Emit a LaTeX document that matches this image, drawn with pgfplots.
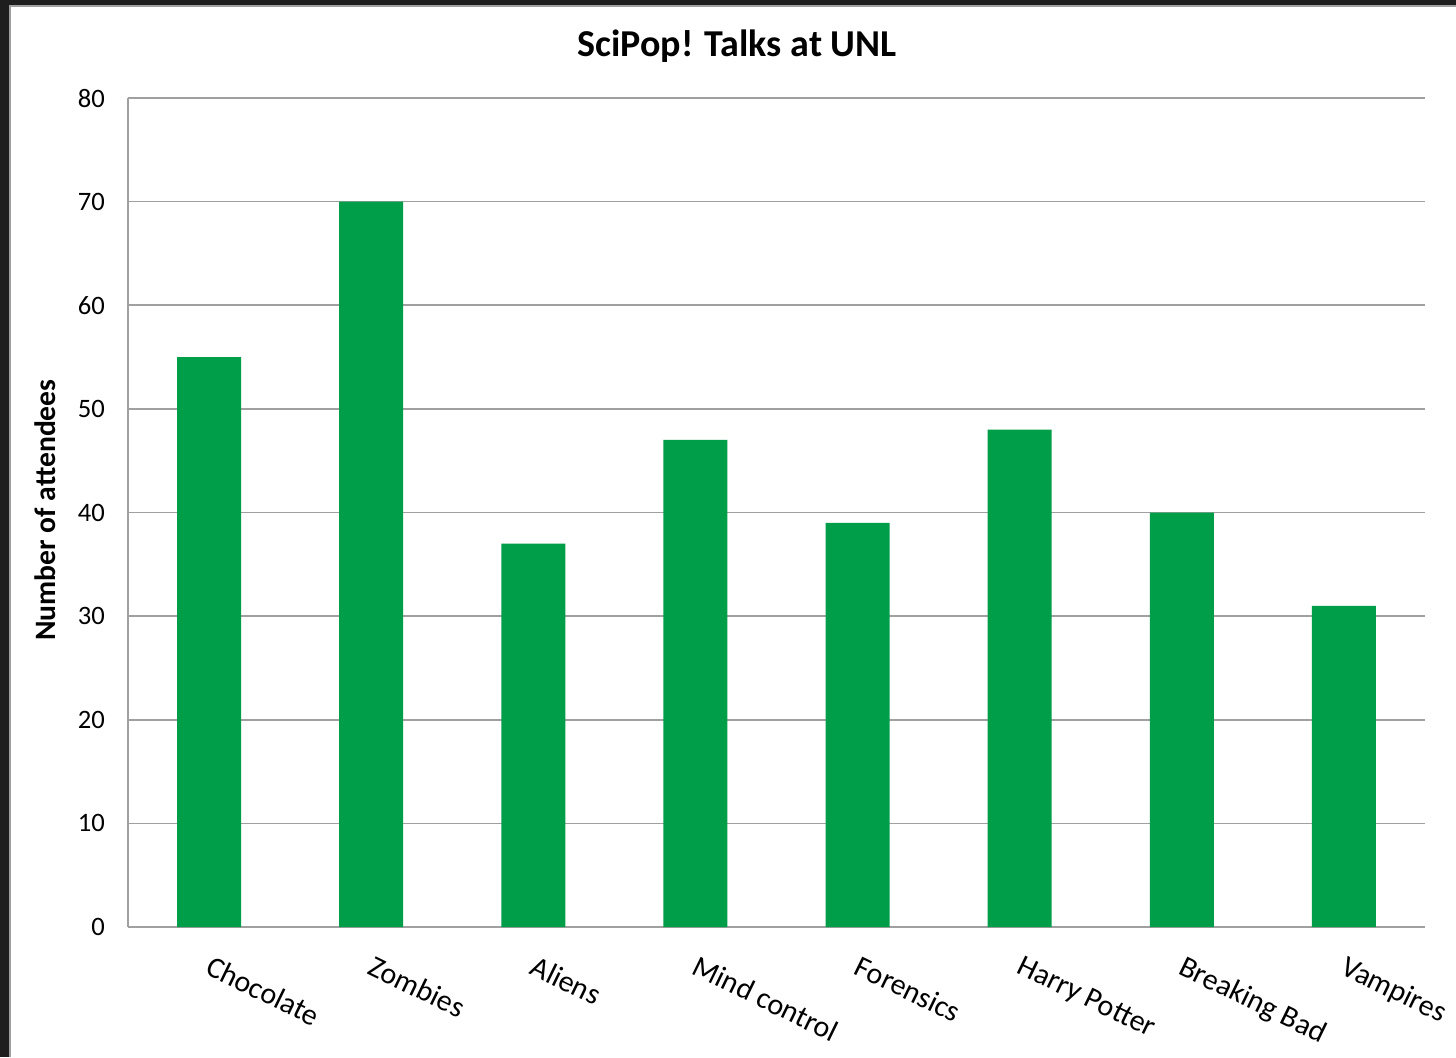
\documentclass[border=0pt]{standalone}
\usepackage{pgfplots}
\pgfplotsset{compat=1.18}
\usepackage{fontspec}
\setmainfont{Carlito}
\definecolor{bargreen}{RGB}{0,158,73}
\definecolor{gridgray}{RGB}{160,160,160}
\definecolor{framedark}{RGB}{30,30,30}
\begin{document}
\begin{tikzpicture}[x=0.5pt,y=0.5pt]
\useasboundingbox (0,0) rectangle (1456,1057);
\fill[framedark] (0,0) rectangle (1456,1057);
\fill[white] (9,0) rectangle (1456,1051);
\draw[gridgray, line width=1pt] (9.5,0) -- (9.5,1050.5) -- (1456,1050.5);
\node[font=\bfseries\fontsize{19}{22}\selectfont, anchor=center] at (737,1057-46) {SciPop! Talks at UNL};
\begin{axis}[
  at={(64pt,65pt)}, anchor=south west,
  scale only axis, width=648.5pt, height=414.5pt,
  ybar, bar width=32pt,
  xmin=-0.5, xmax=7.5, ymin=0, ymax=80,
  ytick={0,10,...,80},
  xtick={0,...,7},
  xticklabels={Chocolate,Zombies,Aliens,Mind control,Forensics,Harry Potter,Breaking Bad,Vampires},
  axis lines*=left,
  axis line style={gridgray, line width=1pt},
  ymajorgrids, grid style={gridgray, line width=0.8pt},
  major tick length=0pt,
  /pgf/number format/assume math mode=true,
  yticklabel style={font=\fontsize{13.3}{15}\selectfont, anchor=east, xshift=-8pt},
  xticklabel style={font=\fontsize{15}{17}\selectfont, rotate=-26, anchor=north west, xshift=4.5pt, yshift=-8pt},
  ylabel={Number of attendees},
  ylabel style={font=\bfseries\fontsize{14.8}{17}\selectfont, at={(axis description cs:-0.064,0.503)}, anchor=center},
  enlarge x limits=false,
]
\addplot[fill=bargreen, draw=none] coordinates {(0,55) (1,70) (2,37) (3,47) (4,39) (5,48) (6,40) (7,31)};
\end{axis}
\end{tikzpicture}
\end{document}
